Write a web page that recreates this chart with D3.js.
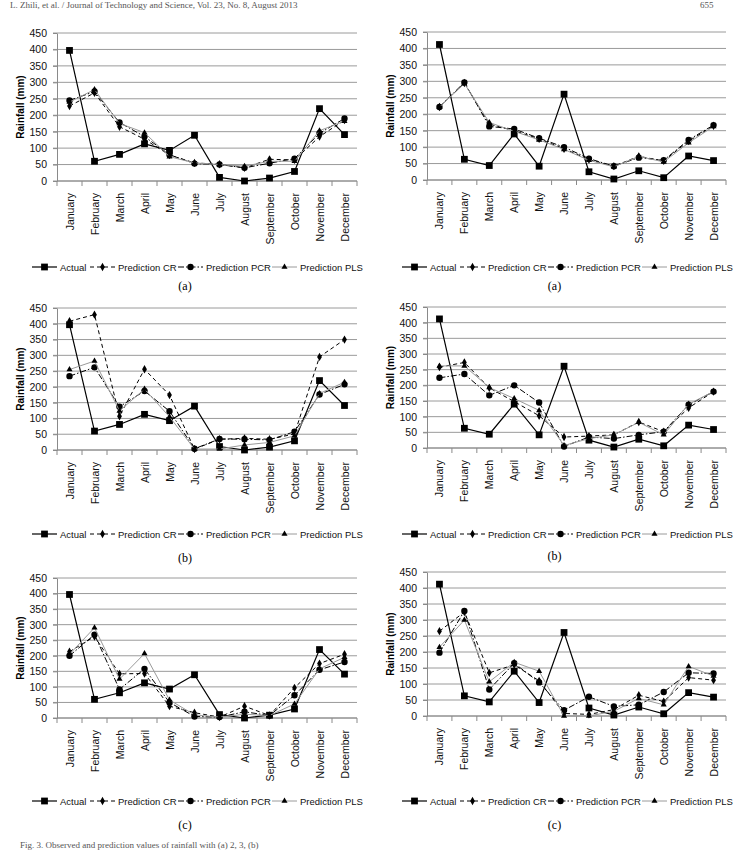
<!DOCTYPE html>
<html>
<head>
<meta charset="utf-8">
<script src="https://cdn.jsdelivr.net/npm/d3@7"></script>
<style>
body { margin: 0; background: #fff; }
text { font-family: "Liberation Sans", Arial, sans-serif; }
.serif { font-family: "Liberation Serif", "Times New Roman", serif; }
</style>
</head>
<body>
<svg width="740" height="851"></svg>
<script>
// months on the x axis
var months = ["January", "February", "March", "April", "May", "June", "July",
    "August", "September", "October", "November", "December"];
var yTicks = [0, 50, 100, 150, 200, 250, 300, 350, 400, 450];
var seriesNames = ["Actual", "Prediction CR", "Prediction PCR", "Prediction PLS"];

// observed rainfall (left column / right column station)
var actualLeft = [397, 60, 81, 113, 93, 139, 11, 0, 9, 29, 220, 141];
var actualRight = [412, 63, 44, 140, 42, 261, 25, 3, 28, 7, 73, 59];

// (a) left
var crA1 = [228, 268, 165, 127, 79, 55, 51, 40, 66, 64, 135, 185];
var pcrA1 = [245, 272, 178, 135, 80, 53, 50, 40, 54, 68, 145, 190];
var plsA1 = [240, 278, 175, 147, 74, 55, 50, 45, 60, 60, 153, 182];
// (a) right
var crA2 = [222, 295, 170, 150, 125, 95, 62, 42, 72, 58, 118, 165];
var pcrA2 = [222, 297, 163, 155, 127, 100, 65, 42, 68, 60, 122, 167];
var plsA2 = [222, 293, 175, 148, 122, 93, 60, 40, 72, 55, 113, 163];
// (b) left
var crB1 = [408, 429, 107, 256, 174, 3, 34, 37, 34, 51, 295, 350];
var pcrB1 = [234, 262, 137, 187, 123, 4, 35, 34, 32, 58, 176, 208];
var plsB1 = [255, 282, 124, 193, 105, 3, 3, 16, 24, 45, 179, 215];
// (b) right
var crB2 = [258, 273, 192, 148, 103, 35, 38, 42, 83, 52, 128, 180];
var pcrB2 = [224, 236, 168, 200, 145, 5, 35, 30, 42, 52, 138, 180];
var plsB2 = [262, 262, 193, 158, 120, 8, 30, 42, 82, 42, 140, 180];
// (c) left
var crC1 = [213, 262, 142, 143, 38, 17, 3, 38, 8, 97, 175, 205];
var pcrC1 = [200, 268, 92, 158, 50, 5, 3, 20, 8, 73, 155, 180];
var plsC1 = [205, 290, 125, 207, 58, 10, 3, 12, 8, 45, 158, 195];
// (c) right
var crC2 = [265, 325, 135, 160, 110, 8, 5, 20, 65, 45, 120, 112];
var pcrC2 = [198, 328, 83, 165, 105, 18, 60, 30, 35, 75, 135, 133];
var plsC2 = [215, 300, 107, 168, 140, 0, 0, 15, 55, 35, 155, 125];

var svg = d3.select("svg");

// line / marker look for each series
var styles = [
    { stroke: "#000", width: 1.2, dash: null, symbol: d3.symbolSquare, size: 46 },
    { stroke: "#000", width: 1, dash: "4,3", symbol: d3.symbolDiamond, size: 20 },
    { stroke: "#000", width: 1, dash: "6,2,1.5,2", symbol: d3.symbolCircle, size: 32 },
    { stroke: "#9a9a9a", width: 1, dash: null, symbol: d3.symbolTriangle, size: 16 }
];

var panels = [
    { x0: 57, x1: 357, y0: 33, y1: 181, data: [actualLeft, crA1, pcrA1, plsA1], tag: "(a)" },
    { x0: 427, x1: 726, y0: 32, y1: 180, data: [actualRight, crA2, pcrA2, plsA2], tag: "(a)" },
    { x0: 57, x1: 357, y0: 308, y1: 450, data: [actualLeft, crB1, pcrB1, plsB1], tag: "(b)" },
    { x0: 427, x1: 726, y0: 307, y1: 448, data: [actualRight, crB2, pcrB2, plsB2], tag: "(b)" },
    { x0: 57, x1: 357, y0: 578, y1: 718, data: [actualLeft, crC1, pcrC1, plsC1], tag: "(c)" },
    { x0: 427, x1: 726, y0: 572, y1: 716, data: [actualRight, crC2, pcrC2, plsC2], tag: "(c)" }
];
var legendY = [267, 267, 534, 534, 801, 801];
var tagY = [290, 290, 562, 560, 829, 829];

panels.forEach(function(p, k) {
    var g = svg.append("g");
    var x = d3.scaleBand().domain(months).range([p.x0, p.x1]);
    var y = d3.scaleLinear().domain([0, 450]).range([p.y1, p.y0]);

    // horizontal gridlines
    g.append("g").selectAll("line")
        .data(yTicks)
        .enter()
        .append("line")
        .attr("x1", p.x0 - 4)
        .attr("x2", p.x1)
        .attr("y1", y)
        .attr("y2", y)
        .attr("stroke", "#9a9a9a")
        .attr("stroke-width", 1);

    // y axis
    var axisY = d3.axisLeft(y).tickValues(yTicks).tickSize(4).tickSizeOuter(0).tickPadding(6);
    var ay = g.append("g").attr("transform", "translate(" + p.x0 + ",0)").call(axisY);
    ay.select(".domain").attr("stroke", "#8a8a8a");
    ay.selectAll(".tick line").attr("stroke", "#8a8a8a");
    ay.selectAll("text").attr("font-size", 10.5).attr("fill", "#111")
        .style("font-family", "'Liberation Sans', Arial, sans-serif");

    // bottom axis with ticks between categories
    g.append("line")
        .attr("x1", p.x0).attr("x2", p.x1)
        .attr("y1", p.y1).attr("y2", p.y1)
        .attr("stroke", "#8a8a8a");
    g.append("g").selectAll("line")
        .data(d3.range(months.length + 1))
        .enter()
        .append("line")
        .attr("x1", i => p.x0 + i * x.step())
        .attr("x2", i => p.x0 + i * x.step())
        .attr("y1", p.y1)
        .attr("y2", p.y1 + 5)
        .attr("stroke", "#8a8a8a");

    g.append("g").selectAll("text")
        .data(months)
        .enter()
        .append("text")
        .attr("transform", d => "translate(" + (x(d) + x.bandwidth() / 2 + 4) + "," + (p.y1 + 12) + ") rotate(-90)")
        .attr("text-anchor", "end")
        .attr("font-size", 10.5)
        .attr("fill", "#111")
        .text(d => d);

    g.append("text")
        .attr("transform", "translate(" + (p.x0 - 33) + "," + ((p.y0 + p.y1) / 2) + ") rotate(-90)")
        .attr("text-anchor", "middle")
        .attr("font-size", 10)
        .attr("font-weight", "bold")
        .text("Rainfall  (mm)");

    // series lines + markers
    p.data.forEach(function(vals, s) {
        var st = styles[s];
        var line = d3.line()
            .x((d, i) => x(months[i]) + x.bandwidth() / 2)
            .y(d => y(d));
        g.append("path")
            .datum(vals)
            .attr("d", line)
            .attr("fill", "none")
            .attr("stroke", st.stroke)
            .attr("stroke-width", st.width)
            .attr("stroke-dasharray", st.dash);
        g.append("g").selectAll("path")
            .data(vals)
            .enter()
            .append("path")
            .attr("d", d3.symbol(st.symbol, st.size))
            .attr("transform", (d, i) => "translate(" + (x(months[i]) + x.bandwidth() / 2) + "," + y(d) + ")")
            .attr("fill", "#000");
    });

    // legend
    var ly = legendY[k];
    var lx = p.x0 - 25;
    var itemX = [0, 58, 146, 240];
    var leg = g.append("g").attr("transform", "translate(" + lx + "," + ly + ")");
    seriesNames.forEach(function(name, s) {
        var st = styles[s];
        var ix = itemX[s];
        leg.append("line")
            .attr("x1", ix).attr("x2", ix + 25)
            .attr("y1", 0).attr("y2", 0)
            .attr("stroke", st.stroke)
            .attr("stroke-width", st.width)
            .attr("stroke-dasharray", st.dash);
        leg.append("path")
            .attr("d", d3.symbol(st.symbol, st.size))
            .attr("transform", "translate(" + (ix + 12.5) + ",0)")
            .attr("fill", "#000");
        leg.append("text")
            .attr("x", ix + 28)
            .attr("y", 3.5)
            .attr("font-size", 9.5)
            .attr("fill", "#111")
            .text(name);
    });

    g.append("text")
        .attr("class", "serif")
        .attr("x", (p.x0 + p.x1) / 2 - 22)
        .attr("y", tagY[k])
        .attr("text-anchor", "middle")
        .attr("font-size", 12)
        .text(p.tag);
});

// page header and figure caption at the page edges
svg.append("text")
    .attr("class", "serif")
    .attr("x", 10)
    .attr("y", 8)
    .attr("font-size", 9)
    .attr("fill", "#555")
    .text("L. Zhili, et al. / Journal of Technology and Science, Vol. 23, No. 8, August 2013");
svg.append("text")
    .attr("class", "serif")
    .attr("x", 700)
    .attr("y", 8)
    .attr("font-size", 9)
    .attr("fill", "#555")
    .text("655");
svg.append("text")
    .attr("class", "serif")
    .attr("x", 20)
    .attr("y", 848)
    .attr("font-size", 9)
    .attr("fill", "#555")
    .text("Fig. 3. Observed and prediction values of rainfall with (a) 2, 3, (b)");
</script>
</body>
</html>
